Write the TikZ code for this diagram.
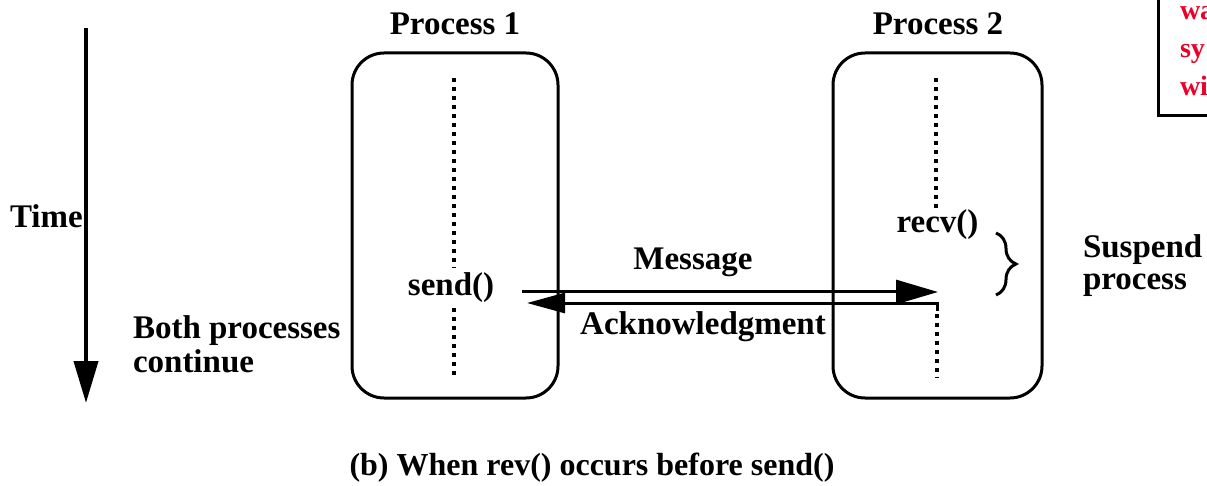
\documentclass[tikz,border=0pt]{standalone}
\usepackage{fontspec}
\setmainfont{Liberation Serif}
\usetikzlibrary{arrows.meta,decorations.pathreplacing}
\definecolor{alertred}{RGB}{235,0,40}
\begin{document}
\begin{tikzpicture}[x=1pt,y=-1pt,
  every node/.style={font=\fontsize{33}{34}\selectfont\bfseries, inner sep=0pt, outer sep=0pt},
  procbox/.style={draw, line width=3pt, rounded corners=32pt, minimum height=345pt},
  lifeline/.style={line width=3.5pt, dash pattern=on 4pt off 5pt},
  msgline/.style={line width=3pt, line join=miter},
  bighead/.style={-{Triangle[length=42pt,width=24pt]}},
  smallhead/.style={-{Triangle[length=38pt,width=20pt]}},
  redtxt/.style={text=alertred, font=\fontsize{28}{30}\selectfont\bfseries, anchor=base west}]
\clip (0,0) rectangle (1207,486);
\fill[white] (0,0) rectangle (1207,486);

% time axis
\coordinate (t0) at (86,28);
\coordinate (t1) at (86,403);
\draw[line width=4pt, bighead] (t0) -- (t1);
\node[anchor=base west] (time) at (10,228) {Time};

% process boxes
\node[procbox, minimum width=206pt] (p1) at (455,225.5) {};
\node[procbox, minimum width=209pt] (p2) at (937.5,225.5) {};
\node[anchor=base] (p1lbl) at (455,35) {Process 1};
\node[anchor=base] (p2lbl) at (938,35) {Process 2};

% lifelines of process 1
\coordinate (p1a) at (454,78);
\coordinate (p1b) at (454,268);
\coordinate (p1c) at (454,308);
\coordinate (p1d) at (454,378);
\draw[lifeline] (p1a) -- (p1b);
\draw[lifeline] (p1c) -- (p1d);
\node[anchor=base] (send) at (451,295) {send()};

% lifelines of process 2
\coordinate (p2a) at (936,78);
\coordinate (p2b) at (936,211);
\coordinate (p2c) at (937,314);
\coordinate (p2d) at (937,378);
\draw[lifeline] (p2a) -- (p2b);
\draw[lifeline] (p2c) -- (p2d);
\node[anchor=base] (recv) at (937.5,233) {recv()};

% messages
\coordinate (ms) at (522,292);
\coordinate (me) at (938,292);
\draw[msgline, bighead] (ms) -- (me);
\coordinate (as) at (937,311);
\coordinate (ae) at (527,303);
\draw[msgline, smallhead] (as) |- (ae);
\node[anchor=base] (msg) at (693,270) {Message};
\node[anchor=base] (ack) at (703,334) {Acknowledgment};

% suspend brace
\coordinate (br0) at (996,233);
\coordinate (br1) at (996,295);
\draw[line width=3pt, decorate, decoration={brace, amplitude=20pt}] (br0) -- (br1);
\node[anchor=base west] (susp1) at (1083,258) {Suspend};
\node[anchor=base west] (susp2) at (1083,290) {process};

% continue
\node[anchor=base west] (both) at (133,338) {Both processes};
\node[anchor=base west] (cont) at (133,372) {continue};

% caption
\node[anchor=base, font=\fontsize{32}{34}\selectfont\bfseries] (cap) at (592,475) {(b) When rev() occurs before send()};

% cut-off red note
\draw[line width=3pt] (1158,-10) rectangle (1240,116);
\node[redtxt] (n1) at (1180,20) {wa};
\node[redtxt] (n2) at (1180,58) {sy};
\node[redtxt] (n3) at (1180,96) {wi};
\end{tikzpicture}
\end{document}
